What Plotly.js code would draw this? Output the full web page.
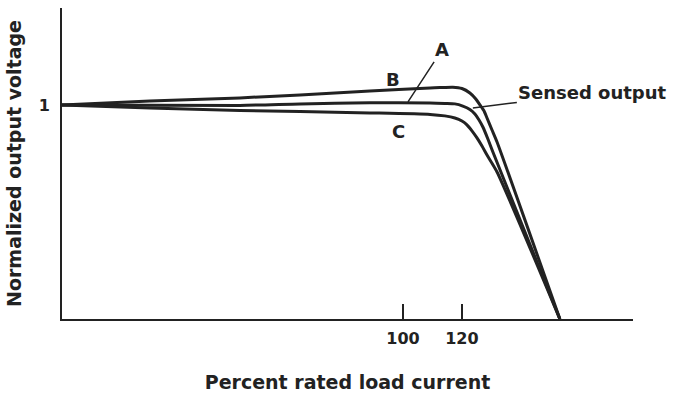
<!DOCTYPE html>
<html>
<head>
<meta charset="utf-8">
<script src="https://cdn.plot.ly/plotly-3.0.1.min.js"></script>
<style>html,body{margin:0;padding:0;background:#fff;}#chart{width:673px;height:400px;}</style>
</head>
<body>
<div id="chart"></div>
<script>
// Percent rated load current (x) vs normalized output voltage (y)
var curveB_x = [-15.6, 14.2, 44.7, 65.1, 88.8, 109.2, 112.5, 116.9, 120.0, 122.7, 124.7, 126.1, 127.5, 128.5, 130.2, 131.9, 153.2];
var curveB_y = [1.000, 1.019, 1.033, 1.047, 1.065, 1.079, 1.081, 1.083, 1.077, 1.056, 1.028, 1.000, 0.972, 0.939, 0.883, 0.827, 0];

var curveA_x = [-15.6, 44.7, 65.1, 88.8, 109.2, 114.2, 117.6, 120.3, 122.7, 124.4, 125.8, 127.1, 128.8, 130.5, 153.2];
var curveA_y = [1.000, 0.998, 1.005, 1.010, 1.009, 1.007, 1.005, 0.995, 0.979, 0.958, 0.930, 0.897, 0.841, 0.780, 0];

var curveC_x = [-15.6, 14.2, 44.7, 65.1, 88.8, 109.2, 114.2, 117.6, 120.0, 121.7, 123.4, 125.1, 126.8, 128.5, 131.9, 153.2];
var curveC_y = [1.000, 0.986, 0.974, 0.969, 0.963, 0.956, 0.949, 0.939, 0.925, 0.907, 0.879, 0.846, 0.808, 0.766, 0.687, 0];

var xTickVals = [100, 120];
var xTickText = ['100', '120'];
var yTickVals = [1];
var yTickText = ['1'];

var FONT = 'DejaVu Sans, sans-serif';
var INK = '#222222';

function curve(xs, ys) {
  return {
    x: xs, y: ys, type: 'scatter', mode: 'lines',
    line: {color: INK, width: 3, shape: 'spline', smoothing: 0.6},
    hoverinfo: 'skip', showlegend: false
  };
}

var data = [curve(curveB_x, curveB_y), curve(curveA_x, curveA_y), curve(curveC_x, curveC_y)];

var labelFont = {family: FONT, size: 18, color: INK, weight: 'bold'};

var layout = {
  width: 673, height: 400,
  margin: {l: 62, r: 40, t: 8, b: 81},
  paper_bgcolor: '#fff', plot_bgcolor: '#fff',
  showlegend: false,
  font: {family: FONT, size: 17, color: INK},
  xaxis: {
    range: [-15.6, 178], showgrid: false, zeroline: false,
    showline: true, linecolor: INK, linewidth: 2,
    tickmode: 'array', tickvals: xTickVals, ticktext: xTickText,
    ticks: 'inside', ticklen: 15, tickwidth: 1.5, tickcolor: INK,
    ticklabelstandoff: 4,
    tickfont: {family: FONT, size: 16, color: INK, weight: 'bold'},
    title: {text: 'Percent rated load current', font: {family: FONT, size: 19, color: INK, weight: 'bold'}, standoff: 28}
  },
  yaxis: {
    range: [0, 1.453], showgrid: false, zeroline: false,
    showline: true, linecolor: INK, linewidth: 2,
    tickmode: 'array', tickvals: yTickVals, ticktext: yTickText,
    ticks: '', ticklabelstandoff: 7,
    tickfont: {family: FONT, size: 16, color: INK, weight: 'bold'},
    title: {text: 'Normalized output voltage', font: {family: FONT, size: 19, color: INK, weight: 'bold'}, standoff: 12}
  },
  annotations: [
    {x: 101.7, y: 1.014, xref: 'x', yref: 'y', text: 'A', showarrow: true, arrowhead: 0,
     arrowwidth: 1.5, arrowcolor: INK, ax: 34, ay: -52, font: labelFont},
    {x: 96.6, y: 1.121, xref: 'x', yref: 'y', text: 'B', showarrow: false, font: labelFont},
    {x: 98.6, y: 0.878, xref: 'x', yref: 'y', text: 'C', showarrow: false, font: labelFont},
    {x: 123.7, y: 0.986, xref: 'x', yref: 'y', text: 'Sensed output', showarrow: true, arrowhead: 0,
     arrowwidth: 1.5, arrowcolor: INK, ax: 120, ay: -15, font: labelFont}
  ]
};

Plotly.newPlot('chart', data, layout, {displayModeBar: false, staticPlot: true});
</script>
</body>
</html>
